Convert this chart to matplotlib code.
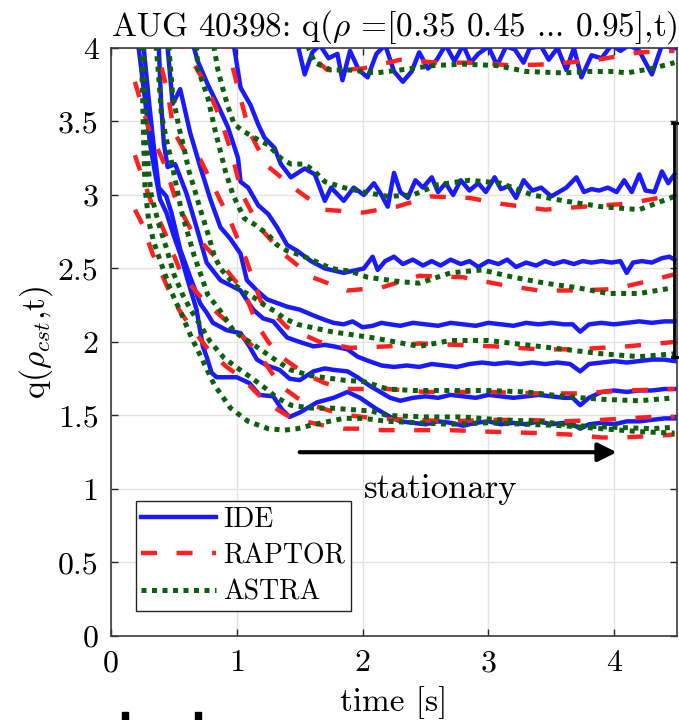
import matplotlib
matplotlib.use("Agg")
import matplotlib.pyplot as plt
from matplotlib.lines import Line2D
from matplotlib.patches import Rectangle

plt.rcParams['font.family'] = ['cmr10', 'DejaVu Serif']
plt.rcParams['mathtext.fontset'] = 'cm'
plt.rcParams['axes.formatter.use_mathtext'] = True

# q(rho, t) traces, (time [s], q), rho = 0.35 ... 0.95
ide_35 = [(0.20, 4.3), (0.22, 4.0), (0.27, 3.65), (0.31, 3.35), (0.35, 3.15), (0.39, 2.97), (0.44, 2.88), (0.50, 2.72),
          (0.55, 2.6), (0.61, 2.42), (0.68, 2.22), (0.73, 1.97), (0.76, 1.9), (0.80, 1.79), (0.84, 1.76), (0.92, 1.76),
          (1.00, 1.76), (1.10, 1.72), (1.18, 1.64), (1.29, 1.63), (1.36, 1.54), (1.42, 1.49), (1.50, 1.52), (1.64, 1.59),
          (1.77, 1.62), (1.88, 1.66), (1.98, 1.62), (2.10, 1.55), (2.22, 1.49), (2.30, 1.46), (2.40, 1.45), (2.50, 1.44),
          (2.60, 1.46), (2.70, 1.45), (2.80, 1.43), (2.90, 1.45), (3.00, 1.46), (3.10, 1.44), (3.20, 1.45), (3.30, 1.44),
          (3.40, 1.46), (3.50, 1.44), (3.60, 1.45), (3.67, 1.44), (3.73, 1.41), (3.80, 1.44), (3.90, 1.45), (4.00, 1.44),
          (4.10, 1.46), (4.20, 1.46), (4.30, 1.47), (4.40, 1.48), (4.48, 1.48)]
ide_45 = [(0.22, 4.3), (0.26, 4.0), (0.30, 3.65), (0.34, 3.33), (0.38, 3.05), (0.44, 2.99), (0.48, 2.88), (0.55, 2.63),
          (0.63, 2.44), (0.71, 2.26), (0.76, 2.2), (0.81, 2.13), (0.92, 2.08), (1.03, 2.06), (1.10, 1.97), (1.16, 1.88),
          (1.24, 1.84), (1.34, 1.81), (1.42, 1.75), (1.50, 1.74), (1.61, 1.8), (1.70, 1.82), (1.77, 1.81), (1.88, 1.8),
          (1.96, 1.76), (2.06, 1.7), (2.14, 1.66), (2.22, 1.62), (2.30, 1.6), (2.40, 1.62), (2.50, 1.63), (2.60, 1.62),
          (2.70, 1.64), (2.80, 1.63), (2.90, 1.62), (3.00, 1.64), (3.10, 1.63), (3.20, 1.62), (3.30, 1.63), (3.40, 1.64),
          (3.50, 1.63), (3.60, 1.62), (3.67, 1.62), (3.73, 1.57), (3.80, 1.62), (3.90, 1.66), (4.00, 1.67), (4.10, 1.66),
          (4.20, 1.67), (4.30, 1.67), (4.40, 1.68), (4.48, 1.68)]
ide_55 = [(0.35, 4.3), (0.38, 4.0), (0.40, 3.6), (0.42, 3.35), (0.45, 3.19), (0.51, 3.21), (0.60, 3.01), (0.68, 2.78),
          (0.76, 2.54), (0.87, 2.42), (1.03, 2.35), (1.13, 2.22), (1.21, 2.16), (1.29, 2.14), (1.40, 2.03), (1.50, 2.0),
          (1.61, 1.97), (1.70, 1.98), (1.77, 1.97), (1.88, 1.95), (1.96, 1.9), (2.05, 1.87), (2.15, 1.84), (2.25, 1.83),
          (2.35, 1.84), (2.45, 1.83), (2.55, 1.85), (2.65, 1.84), (2.75, 1.83), (2.85, 1.85), (2.95, 1.86), (3.05, 1.85),
          (3.15, 1.86), (3.25, 1.85), (3.35, 1.86), (3.45, 1.85), (3.55, 1.86), (3.65, 1.85), (3.73, 1.8), (3.80, 1.85),
          (3.90, 1.86), (4.00, 1.87), (4.10, 1.86), (4.20, 1.87), (4.30, 1.88), (4.40, 1.88), (4.48, 1.87)]
ide_65 = [(0.42, 4.3), (0.45, 4.0), (0.49, 3.62), (0.55, 3.72), (0.63, 3.42), (0.71, 3.19), (0.79, 2.97), (0.87, 2.78),
          (0.95, 2.7), (1.03, 2.6), (1.08, 2.42), (1.16, 2.35), (1.24, 2.29), (1.40, 2.24), (1.50, 2.22), (1.61, 2.18),
          (1.70, 2.15), (1.77, 2.13), (1.85, 2.12), (1.92, 2.14), (2.00, 2.1), (2.08, 2.11), (2.15, 2.13), (2.22, 2.12),
          (2.30, 2.11), (2.40, 2.13), (2.50, 2.12), (2.60, 2.11), (2.70, 2.13), (2.80, 2.12), (2.90, 2.11), (3.00, 2.13),
          (3.10, 2.12), (3.20, 2.11), (3.30, 2.13), (3.40, 2.12), (3.50, 2.13), (3.60, 2.12), (3.67, 2.12), (3.73, 2.07),
          (3.80, 2.12), (3.90, 2.13), (4.00, 2.12), (4.10, 2.13), (4.20, 2.14), (4.30, 2.13), (4.40, 2.14), (4.48, 2.14)]
ide_75 = [(0.63, 4.3), (0.66, 4.0), (0.69, 3.91), (0.77, 3.75), (0.85, 3.61), (0.93, 3.46), (1.01, 3.25), (1.03, 3.09),
          (1.09, 3.05), (1.17, 2.93), (1.25, 2.87), (1.32, 2.78), (1.40, 2.66), (1.48, 2.62), (1.59, 2.55), (1.70, 2.5),
          (1.85, 2.47), (2.01, 2.5), (2.08, 2.58), (2.12, 2.49), (2.18, 2.55), (2.25, 2.58),
          (2.32, 2.53), (2.40, 2.56), (2.48, 2.52), (2.55, 2.55), (2.62, 2.52), (2.70, 2.56), (2.78, 2.53), (2.85, 2.55),
          (2.92, 2.51), (3.00, 2.55), (3.08, 2.53), (3.15, 2.56), (3.22, 2.51), (3.30, 2.54), (3.38, 2.52), (3.45, 2.55),
          (3.52, 2.53), (3.60, 2.55), (3.68, 2.53), (3.75, 2.55), (3.82, 2.54), (3.90, 2.55), (3.98, 2.54), (4.05, 2.55),
          (4.10, 2.47), (4.15, 2.54), (4.22, 2.55), (4.30, 2.54), (4.38, 2.57), (4.44, 2.58), (4.48, 2.56)]
ide_85 = [(0.95, 4.3), (0.98, 4.0), (1.03, 3.73), (1.11, 3.61), (1.17, 3.48), (1.22, 3.39), (1.30, 3.32), (1.35, 3.21),
          (1.43, 3.12), (1.54, 3.18), (1.62, 3.14), (1.70, 2.96), (1.75, 3.05), (1.85, 2.96), (1.93, 3.05),
          (2.01, 3.0), (2.09, 3.08), (2.15, 3.0), (2.20, 2.92), (2.25, 3.15), (2.30, 3.02), (2.36, 2.98), (2.42, 3.1),
          (2.48, 3.05), (2.55, 3.12), (2.60, 3.02), (2.66, 3.08), (2.72, 3.0), (2.78, 3.1), (2.85, 3.03), (2.92, 3.08),
          (2.98, 3.02), (3.05, 3.12), (3.10, 3.04), (3.16, 3.06), (3.22, 2.98), (3.28, 3.1), (3.35, 3.03), (3.42, 3.05),
          (3.50, 2.99), (3.56, 3.02), (3.62, 3.05), (3.70, 3.12), (3.76, 3.02), (3.82, 3.04), (3.88, 3.03), (3.95, 3.05),
          (4.02, 3.02), (4.08, 3.1), (4.14, 3.02), (4.20, 3.14), (4.25, 3.03), (4.32, 3.02), (4.38, 3.16), (4.43, 3.08),
          (4.48, 3.14)]
ide_95 = [(1.46, 4.3), (1.49, 4.0), (1.54, 3.82), (1.60, 3.97), (1.66, 4.02), (1.73, 3.93), (1.80, 3.96), (1.84, 3.78),
          (1.90, 3.98), (1.97, 3.85), (2.04, 3.8), (2.11, 3.96), (2.18, 4.02), (2.25, 3.84), (2.32, 3.77), (2.39, 3.84),
          (2.45, 3.97), (2.52, 3.86), (2.59, 3.92), (2.66, 4.02), (2.73, 3.91), (2.80, 4.02), (2.86, 3.9), (2.92, 3.96),
          (3.00, 4.01), (3.07, 3.88), (3.14, 4.01), (3.21, 3.99), (3.28, 3.9), (3.33, 4.0), (3.42, 4.01), (3.48, 3.92),
          (3.55, 4.0), (3.62, 3.85), (3.68, 4.0), (3.74, 3.8), (3.82, 3.95), (3.90, 3.93), (3.98, 4.02), (4.05, 3.98),
          (4.12, 4.02), (4.20, 3.98), (4.30, 3.82), (4.38, 4.02), (4.48, 4.0)]

rap_35 = [(0.19, 2.9), (0.25, 2.8), (0.33, 2.6), (0.40, 2.47), (0.46, 2.35), (0.54, 2.22), (0.62, 2.12), (0.70, 2.03),
          (0.80, 1.92), (0.92, 1.83), (1.05, 1.75), (1.15, 1.66), (1.25, 1.58), (1.40, 1.5), (1.54, 1.46), (1.70, 1.43),
          (1.85, 1.41), (2.00, 1.41), (2.15, 1.4), (2.40, 1.4), (2.70, 1.4), (3.00, 1.39), (3.40, 1.38), (3.65, 1.37),
          (3.90, 1.35), (4.05, 1.35), (4.30, 1.36), (4.48, 1.37)]
rap_45 = [(0.19, 3.27), (0.25, 3.12), (0.32, 2.95), (0.43, 2.74), (0.56, 2.46), (0.75, 2.27), (0.96, 2.11), (1.15, 1.95),
          (1.27, 1.8), (1.35, 1.7), (1.48, 1.62), (1.60, 1.57), (1.75, 1.53), (1.90, 1.5), (2.10, 1.48), (2.40, 1.47),
          (2.70, 1.46), (3.00, 1.47), (3.30, 1.47), (3.60, 1.46), (3.90, 1.47), (4.10, 1.48), (4.30, 1.49), (4.48, 1.49)]
rap_55 = [(0.19, 3.77), (0.23, 3.65), (0.30, 3.45), (0.43, 3.2), (0.52, 2.95), (0.65, 2.74), (0.86, 2.55), (1.06, 2.34),
          (1.16, 2.12), (1.25, 2.0), (1.35, 1.9), (1.55, 1.78), (1.70, 1.72), (1.88, 1.68), (2.20, 1.68), (2.50, 1.66),
          (2.80, 1.66), (3.00, 1.66), (3.40, 1.65), (3.70, 1.65), (4.10, 1.67), (4.48, 1.68)]
rap_65 = [(0.33, 4.1), (0.38, 3.94), (0.45, 3.7), (0.50, 3.43), (0.61, 3.26), (0.71, 3.24), (0.82, 3.05), (0.95, 2.82),
          (1.07, 2.57), (1.19, 2.28), (1.40, 2.1), (1.66, 2.0), (1.90, 1.96), (2.20, 1.97), (2.45, 1.99), (2.75, 1.98),
          (3.05, 1.97), (3.40, 1.95), (3.70, 1.95), (4.10, 1.97), (4.48, 2.0)]
rap_75 = [(0.56, 4.1), (0.61, 3.96), (0.75, 3.76), (0.87, 3.52), (0.96, 3.28), (1.04, 3.01), (1.18, 2.78), (1.37, 2.6),
          (1.60, 2.44), (1.88, 2.35), (2.15, 2.37), (2.45, 2.45), (2.80, 2.44), (3.10, 2.39), (3.40, 2.35), (3.70, 2.35),
          (4.00, 2.36), (4.30, 2.42), (4.48, 2.46)]
rap_85 = [(0.90, 4.1), (0.95, 3.93), (1.02, 3.69), (1.10, 3.43), (1.24, 3.2), (1.45, 3.05), (1.69, 2.9), (2.00, 2.88),
          (2.27, 2.92), (2.54, 2.99), (2.85, 2.98), (3.10, 2.94), (3.45, 2.9), (3.75, 2.92), (4.10, 2.94), (4.48, 3.0)]
rap_95 = [(1.50, 4.1), (1.58, 3.95), (1.72, 3.85), (1.84, 3.85), (2.00, 3.86), (2.30, 3.92), (2.60, 3.9), (2.90, 3.9),
          (3.20, 3.88), (3.50, 3.89), (3.87, 3.92), (4.20, 3.97), (4.48, 3.98)]

ast_35 = [(0.22, 4.3), (0.24, 4.0), (0.25, 3.7), (0.26, 3.35), (0.27, 3.05), (0.30, 2.82), (0.34, 2.68), (0.40, 2.53),
          (0.48, 2.34), (0.56, 2.19), (0.64, 2.03), (0.72, 1.89), (0.82, 1.71), (0.95, 1.55), (1.09, 1.46), (1.25, 1.41),
          (1.38, 1.4), (1.48, 1.41), (1.62, 1.44), (1.85, 1.48), (2.01, 1.48), (2.20, 1.46), (2.45, 1.45), (2.70, 1.44),
          (3.00, 1.45), (3.30, 1.44), (3.60, 1.43), (3.90, 1.41), (4.20, 1.39), (4.48, 1.38)]
ast_45 = [(0.23, 4.3), (0.26, 4.0), (0.27, 3.7), (0.28, 3.4), (0.30, 3.15), (0.32, 3.0), (0.38, 2.8), (0.44, 2.64),
          (0.50, 2.46), (0.57, 2.32), (0.64, 2.21), (0.72, 2.1), (0.79, 2.0), (0.90, 1.89), (1.01, 1.82), (1.11, 1.76),
          (1.22, 1.69), (1.32, 1.62), (1.43, 1.57), (1.59, 1.55), (1.75, 1.55), (1.91, 1.54), (2.07, 1.53), (2.20, 1.5),
          (2.50, 1.49), (2.80, 1.49), (3.10, 1.47), (3.40, 1.46), (3.70, 1.43), (4.00, 1.42), (4.30, 1.41), (4.48, 1.42)]
ast_55 = [(0.33, 4.3), (0.36, 4.0), (0.38, 3.8), (0.40, 3.55), (0.44, 3.38), (0.48, 3.23), (0.56, 2.89), (0.66, 2.59),
          (0.77, 2.32), (0.87, 2.21), (0.98, 2.07), (1.17, 1.96), (1.32, 1.87), (1.43, 1.81), (1.59, 1.77), (1.85, 1.74),
          (2.01, 1.73), (2.20, 1.68), (2.40, 1.67), (2.70, 1.67), (3.00, 1.67), (3.30, 1.66), (3.60, 1.63), (3.90, 1.61),
          (4.20, 1.6), (4.48, 1.62)]
ast_65 = [(0.44, 4.3), (0.46, 4.0), (0.49, 3.68), (0.54, 3.46), (0.58, 3.32), (0.62, 3.16), (0.66, 3.05), (0.70, 2.93),
          (0.74, 2.82), (0.78, 2.71), (0.82, 2.59), (0.87, 2.5), (0.93, 2.44), (0.98, 2.39), (1.06, 2.34), (1.14, 2.3),
          (1.22, 2.25), (1.30, 2.21), (1.38, 2.16), (1.48, 2.12), (1.59, 2.1), (1.75, 2.07), (1.91, 2.05), (2.07, 2.03),
          (2.20, 2.01), (2.45, 1.97), (2.70, 2.01), (3.00, 2.01), (3.30, 1.98), (3.60, 1.95), (3.90, 1.92), (4.20, 1.9),
          (4.48, 1.92)]
ast_75 = [(0.66, 4.3), (0.68, 4.0), (0.69, 3.86), (0.77, 3.66), (0.83, 3.43), (0.91, 3.16), (0.97, 3.0), (1.06, 2.84),
          (1.14, 2.8), (1.25, 2.73), (1.32, 2.66), (1.40, 2.62), (1.51, 2.59), (1.62, 2.55), (1.75, 2.5), (1.91, 2.48),
          (2.04, 2.44), (2.30, 2.41), (2.45, 2.4), (2.70, 2.47), (2.95, 2.49), (3.20, 2.44), (3.45, 2.4), (3.70, 2.37),
          (3.95, 2.33), (4.20, 2.33), (4.48, 2.37)]
ast_85 = [(0.80, 4.3), (0.82, 4.0), (0.85, 3.85), (0.89, 3.72), (0.93, 3.6), (0.98, 3.48), (1.06, 3.43), (1.14, 3.39),
          (1.25, 3.34), (1.35, 3.25), (1.43, 3.21), (1.54, 3.21), (1.62, 3.16), (1.70, 3.09), (1.85, 3.05), (2.01, 3.02),
          (2.20, 2.99), (2.40, 3.0), (2.60, 3.07), (2.85, 3.1), (3.10, 3.08), (3.35, 3.0), (3.60, 2.96), (3.90, 2.92),
          (4.20, 2.9), (4.48, 2.99)]
ast_95 = [(1.52, 4.3), (1.57, 4.0), (1.62, 3.9), (1.75, 3.85), (1.90, 3.85), (2.10, 3.83), (2.30, 3.85), (2.56, 3.88),
          (2.80, 3.89), (3.07, 3.88), (3.30, 3.84), (3.60, 3.83), (3.80, 3.84), (4.00, 3.84), (4.10, 3.83), (4.30, 3.86),
          (4.48, 3.9)]

ide_all = [ide_35, ide_45, ide_55, ide_65, ide_75, ide_85, ide_95]
rap_all = [rap_35, rap_45, rap_55, rap_65, rap_75, rap_85, rap_95]
ast_all = [ast_35, ast_45, ast_55, ast_65, ast_75, ast_85, ast_95]

x_ticks = [0, 1, 2, 3, 4]
y_ticks = [0, 0.5, 1, 1.5, 2, 2.5, 3, 3.5, 4]

fig = plt.figure(figsize=(6.79, 7.2), dpi=100)
ax = fig.add_axes([0.1635, 0.1167, 0.8336, 0.8167])

blue = (0.1, 0.1, 1.0)
red = (1.0, 0.13, 0.13)
green = (0.05, 0.38, 0.05)

for i, s in enumerate(ide_all):
    t, q = zip(*s)
    ax.plot(t, q, color=blue, lw=3.2, solid_joinstyle='round', label='IDE' if i == 0 else None, zorder=3)
for i, s in enumerate(rap_all):
    t, q = zip(*s)
    ax.plot(t, q, color=red, lw=3.2, dashes=(3.6, 4.4), dash_capstyle='butt',
            label='RAPTOR' if i == 0 else None, zorder=4)
for i, s in enumerate(ast_all):
    t, q = zip(*s)
    ax.plot(t, q, color=green, lw=3.6, dashes=(1, 1.1), dash_capstyle='butt',
            label='ASTRA' if i == 0 else None, zorder=5)

ax.annotate('', xy=(4.02, 1.25), xytext=(1.5, 1.25),
            arrowprops=dict(arrowstyle='-|>', lw=3, color='k', mutation_scale=28,
                            shrinkA=0, shrinkB=0))
ax.text(2.62, 1.0, 'stationary', fontsize=25, ha='center', va='center')

ax.set_xlim(0, 4.5)
ax.set_ylim(0, 4)
ax.set_xticks(x_ticks)
ax.set_yticks(y_ticks)
ax.set_xticklabels([f'{v:g}' for v in x_ticks])
ax.set_yticklabels([f'{v:g}' for v in y_ticks])
ax.grid(True, color='#e3e3e3', lw=1.0)
ax.set_axisbelow(True)
ax.tick_params(direction='in', length=5, width=1, top=True, right=True, labelsize=23,
               colors='#262626', labelcolor='black')
ax.tick_params(axis='y', pad=9)
ax.tick_params(axis='x', pad=10)
for sp in ax.spines.values():
    sp.set_color('#3a3a3a')
    sp.set_linewidth(1.2)

ax.set_title(r'AUG 40398: q($\rho$ =[0.35 0.45 ... 0.95],t)', fontsize=24, pad=9)
ax.set_xlabel('time [s]', fontsize=24, labelpad=6)
ax.set_ylabel(r'q($\rho_{cst}$,t)', fontsize=24, labelpad=2)

leg = ax.legend(loc='lower left', bbox_to_anchor=(0.044, 0.0425), borderaxespad=0,
                fontsize=20, handlelength=2.7, handletextpad=0.25, labelspacing=0.36,
                borderpad=0.2, fancybox=False, framealpha=1, edgecolor='#262626')
leg.get_frame().set_linewidth(1.0)

# remnants of the neighbouring panels in the source figure
fig.add_artist(Line2D([673.5 / 679, 673.5 / 679], [1 - 123 / 720, 1 - 357 / 720], color='k', lw=2))
fig.add_artist(Line2D([672 / 679, 1.0], [1 - 123 / 720, 1 - 123 / 720], color='k', lw=2))
fig.add_artist(Line2D([672 / 679, 1.0], [1 - 357 / 720, 1 - 357 / 720], color='k', lw=2))
fig.add_artist(Rectangle((122 / 679, 0), 6 / 679, 8 / 720, color='k', transform=fig.transFigure))
fig.add_artist(Rectangle((195 / 679, 0), 6 / 679, 8 / 720, color='k', transform=fig.transFigure))

fig.savefig('out.png', dpi=100)
